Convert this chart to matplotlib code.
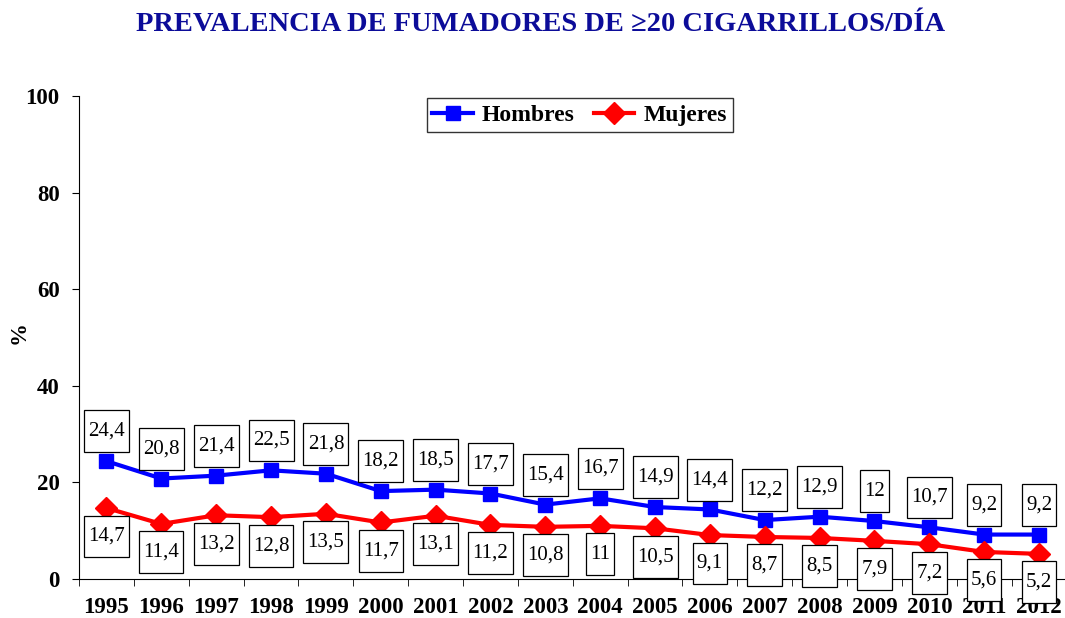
import matplotlib.pyplot as plt
import numpy as np
from matplotlib.path import Path

years = ["1995", "1996", "1997", "1998", "1999", "2000", "2001", "2002", "2003",
         "2004", "2005", "2006", "2007", "2008", "2009", "2010", "2011", "2012"]
hombres = [24.4, 20.8, 21.4, 22.5, 21.8, 18.2, 18.5, 17.7, 15.4,
           16.7, 14.9, 14.4, 12.2, 12.9, 12.0, 10.7, 9.2, 9.2]
mujeres = [14.7, 11.4, 13.2, 12.8, 13.5, 11.7, 13.1, 11.2, 10.8,
           11.0, 10.5, 9.1, 8.7, 8.5, 7.9, 7.2, 5.6, 5.2]

plt.rcParams['font.family'] = ['Liberation Serif', 'DejaVu Serif']


def tall_box(x0, y0, width, height, mutation_size):
    # caja con más relleno vertical que horizontal
    px = 0.2 * mutation_size
    py = 0.55 * mutation_size
    x0, x1 = x0 - px, x0 + width + px
    y0, y1 = y0 - py, y0 + height + py
    return Path([(x0, y0), (x1, y0), (x1, y1), (x0, y1), (x0, y0)], closed=True)


def fmt(v):
    s = f"{v:.1f}".replace(".", ",")
    if s.endswith(",0"):
        s = s[:-2]
    return s


fig = plt.figure(figsize=(10.65, 6.18), dpi=100)
ax = fig.add_axes([0.0742, 0.0631, 0.9272, 0.7816])

x = np.arange(len(years))
ax.plot(x, hombres, color='#0000ff', lw=3, marker='s', ms=10, label='Hombres', zorder=3)
ax.plot(x, mujeres, color='#ff0000', lw=3, marker='D', ms=11, label='Mujeres', zorder=3)

for i in range(len(years)):
    ax.annotate(fmt(hombres[i]), (x[i], hombres[i]), xytext=(0, 21.5), textcoords='offset points',
                ha='center', va='center', fontsize=15, zorder=4,
                bbox=dict(boxstyle=tall_box, fc='white', ec='black', lw=0.9))
    ax.annotate(fmt(mujeres[i]), (x[i], mujeres[i]), xytext=(0, -20.5), textcoords='offset points',
                ha='center', va='center', fontsize=15, zorder=4,
                bbox=dict(boxstyle=tall_box, fc='white', ec='black', lw=0.9))

ax.set_ylim(0, 100)
ax.set_xlim(-0.5, len(years) - 0.5)
ax.set_yticks([0, 20, 40, 60, 80, 100])
ax.set_xticks(x)
ax.set_xticklabels(years)
ax.set_xticks(np.arange(-0.5, len(years), 1), minor=True)
ax.tick_params(axis='x', which='major', length=0, pad=13)
ax.tick_params(axis='x', which='minor', length=5, direction='out')
ax.tick_params(axis='y', length=5, direction='out', pad=9)
for lbl in ax.get_xticklabels() + ax.get_yticklabels():
    lbl.set_fontweight('bold')
    lbl.set_fontsize(16.5)

ax.spines['top'].set_visible(False)
ax.spines['right'].set_visible(False)
ax.set_ylabel('%', fontsize=16.5, fontweight='bold')
ax.yaxis.set_label_coords(-0.05, 0.51)

leg = ax.legend(loc='upper center', bbox_to_anchor=(0.507, 1.0), ncol=2, frameon=True,
                fancybox=False, edgecolor='black', prop={'weight': 'bold', 'size': 17},
                handlelength=1.7, columnspacing=0.8, borderpad=0.25, handletextpad=0.4,
                borderaxespad=0.1)
leg.get_frame().set_linewidth(1.0)

fig.text(0.508, 0.96, 'PREVALENCIA DE FUMADORES DE \u226520 CIGARRILLOS/DÍA',
         ha='center', va='center', fontsize=20.5, fontweight='bold', color='#0c0c99')

fig.savefig('out.png', dpi=100)
